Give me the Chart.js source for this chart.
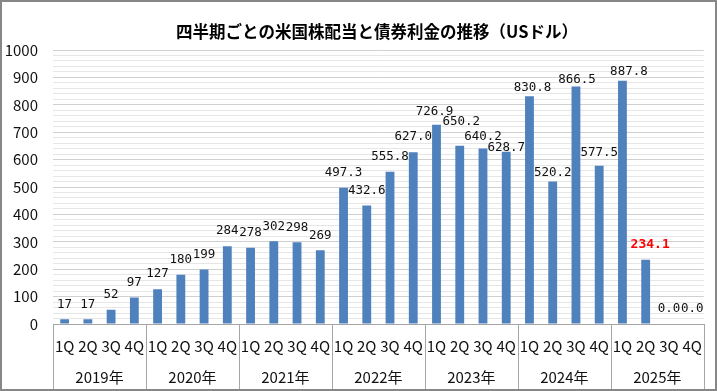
<!DOCTYPE html>
<html><head><meta charset="utf-8">
<script src="https://cdn.jsdelivr.net/npm/chart.js@4/dist/chart.umd.min.js"></script>
<style>
html,body{margin:0;padding:0;background:#fff;}
#wrap{width:717px;height:391px;box-sizing:border-box;border:2px solid #878787;background:#fff;}
canvas{display:block;}
</style></head><body>
<div id="wrap"><canvas id="c" width="713" height="387"></canvas></div>
<script>
// ---- data ----
const chartTitle = '四半期ごとの米国株配当と債券利金の推移（USドル）';
const years = ['2019年','2020年','2021年','2022年','2023年','2024年','2025年'];
const quarters = ['1Q','2Q','3Q','4Q'];
const values = [
  17, 17, 52, 97,
  127, 180, 199, 284,
  278, 302, 298, 269,
  497.3, 432.6, 555.8, 627.0,
  726.9, 650.2, 640.2, 628.7,
  830.8, 520.2, 866.5, 577.5,
  887.8, 234.1, 0.0, 0.0
];
const yearDecimals = [0, 0, 0, 1, 1, 1, 1];
const yMin = 0, yMax = 1000, yMajorStep = 100, yMinorStep = 20;
const highlightIndex = 25;

// ---- style ----
const barColor = '#4f81bd';
const axisColor = '#a6a6a6';
const majorGrid = '#d0d0d0';
const minorGrid = '#e6e6e6';
const textColor = '#111111';
const fontFamily = "'Noto Sans CJK JP', 'Noto Sans', sans-serif";
const labelFont = "12.5px 'DejaVu Sans Mono', monospace";
const highlightFont = "bold 13px 'DejaVu Sans Mono', monospace";
const labelGap = 15;
// small manual nudges of some value labels [dx, dy] (as placed in the original)
const labelNudge = {16:[-2,2], 17:[1.5,-9], 18:[0,3], 19:[0,11], 20:[3,6.5], 21:[0,6], 22:[1,8], 23:[0,2], 24:[6.5,6.5], 25:[4.5,0]};

const categoryLabels = years.flatMap(() => quarters);

const titlePlugin = {
  id: 'chartTitle',
  afterDraw(chart) {
    const {ctx} = chart;
    ctx.save();
    ctx.fillStyle = '#000';
    ctx.font = "bold 16.5px " + fontFamily;
    ctx.textAlign = 'center';
    ctx.textBaseline = 'middle';
    ctx.fillText(chartTitle, 375, 30);
    ctx.restore();
  }
};

const groupPlugin = {
  id: 'groups',
  afterDraw(chart) {
    const {ctx} = chart;
    const x = chart.scales.x;
    const n = values.length;
    const w = (x.right - x.left) / n;
    ctx.save();
    ctx.strokeStyle = axisColor;
    ctx.lineWidth = 1;
    const bottom = chart.height;
    for (let g = 0; g <= years.length; g++) {
      const px = Math.round(x.left + g * quarters.length * w) + 0.5;
      ctx.beginPath();
      ctx.moveTo(px, x.top);
      ctx.lineTo(px, bottom);
      ctx.stroke();
    }
    ctx.fillStyle = textColor;
    ctx.font = "15px " + fontFamily;
    ctx.textAlign = 'center';
    ctx.textBaseline = 'middle';
    years.forEach((yr, g) => {
      ctx.fillText(yr, x.left + (g * quarters.length + quarters.length / 2) * w, x.top + 53.5);
    });
    ctx.restore();
  }
};

const valueLabelPlugin = {
  id: 'valueLabels',
  afterDatasetsDraw(chart) {
    const {ctx} = chart;
    const meta = chart.getDatasetMeta(0);
    ctx.save();
    ctx.textAlign = 'center';
    ctx.textBaseline = 'middle';
    meta.data.forEach((bar, i) => {
      const dec = yearDecimals[Math.floor(i / quarters.length)];
      const txt = values[i].toFixed(dec);
      const nd = labelNudge[i] || [0, 0];
      if (i === highlightIndex) { ctx.font = highlightFont; ctx.fillStyle = '#ff0000'; }
      else { ctx.font = labelFont; ctx.fillStyle = textColor; }
      ctx.fillText(txt, bar.x + nd[0], bar.y - labelGap + nd[1]);
    });
    ctx.restore();
  }
};

new Chart(document.getElementById('c'), {
  type: 'bar',
  data: {
    labels: categoryLabels,
    datasets: [{
      data: values,
      backgroundColor: barColor,
      borderWidth: 0,
      barPercentage: 0.38,
      categoryPercentage: 1.0
    }]
  },
  options: {
    responsive: false,
    animation: false,
    layout: {padding: {left: 0, right: 6, top: 48, bottom: 0}},
    plugins: {
      legend: {display: false},
      tooltip: {enabled: false},
      title: {display: false}
    },
    scales: {
      x: {
        offset: true,
        grid: {display: true, drawOnChartArea: false, drawTicks: false},
        border: {display: true, color: axisColor, width: 1},
        ticks: {color: textColor, font: {family: fontFamily, size: 15}, padding: 13, autoSkip: false, maxRotation: 0},
        afterFit: s => { s.height = 65; }
      },
      y: {
        min: yMin, max: yMax,
        border: {display: false},
        grid: {
          drawTicks: false,
          color: c => (c.tick && c.tick.value % yMajorStep === 0) ? majorGrid : minorGrid
        },
        ticks: {
          stepSize: yMinorStep,
          autoSkip: false,
          color: textColor,
          font: {family: fontFamily, size: 15},
          padding: 15,
          callback: v => (v % yMajorStep === 0 ? String(v) : '')
        },
        afterFit: s => { s.width = 51; }
      }
    }
  },
  plugins: [groupPlugin, valueLabelPlugin, titlePlugin]
});
</script>
</body></html>
